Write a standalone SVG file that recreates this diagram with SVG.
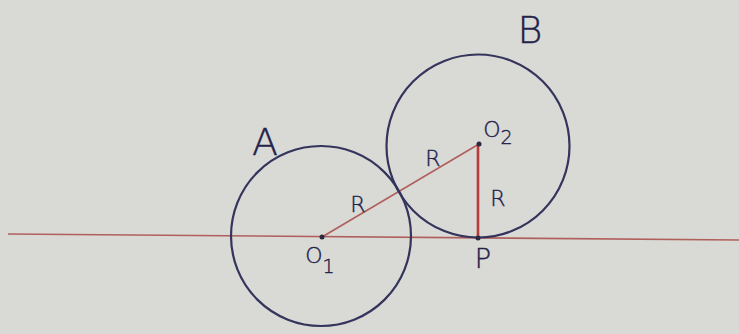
<svg xmlns="http://www.w3.org/2000/svg" width="739" height="334" viewBox="0 0 739 334">
<style>
.c{fill:none;stroke:#34345c;stroke-width:2.2}
.r{stroke:#b0605c;stroke-width:1.6;fill:none}
.t{font-family:"DejaVu Sans","Liberation Sans",sans-serif;font-weight:200;fill:#22224a;stroke:#22224a;stroke-width:0.4}
.lab{font-size:38px}
.sm{font-size:22px}
.sub{font-size:19px}
</style>
<rect width="739" height="334" fill="#d9d9d5"/>
<g id="connectors">
<line class="r" x1="8" y1="234" x2="739" y2="240"/>
<line class="r" x1="322" y1="237" x2="479" y2="144"/>
<line x1="478" y1="145" x2="478" y2="238" stroke="#b83a3a" stroke-width="2.6"/>
</g>
<g id="A">
<circle class="c" cx="321" cy="236" r="90"/>
<text class="t lab" x="265" y="155" text-anchor="middle">A</text>
</g>
<g id="B">
<circle class="c" cx="478" cy="146" r="91.5"/>
<text class="t lab" x="530" y="43" text-anchor="middle">B</text>
</g>
<g id="O1">
<circle cx="322" cy="237" r="2.5" fill="#2a2a40"/>
<text class="t sm" x="320" y="263" text-anchor="middle">O<tspan class="sub" dy="10">1</tspan></text>
</g>
<g id="O2">
<circle cx="479" cy="144" r="2.5" fill="#2a2a40"/>
<text class="t sm" x="498" y="137" text-anchor="middle">O<tspan class="sub" dy="7">2</tspan></text>
</g>
<g id="P">
<circle cx="478" cy="238" r="2.5" fill="#2a2a40"/>
<text class="t" font-size="27" x="483" y="268" text-anchor="middle">P</text>
</g>
<g id="labels">
<text class="t sm" x="358" y="212" text-anchor="middle">R</text>
<text class="t sm" x="433" y="166" text-anchor="middle">R</text>
<text class="t sm" x="498" y="206" text-anchor="middle">R</text>
</g>
</svg>
